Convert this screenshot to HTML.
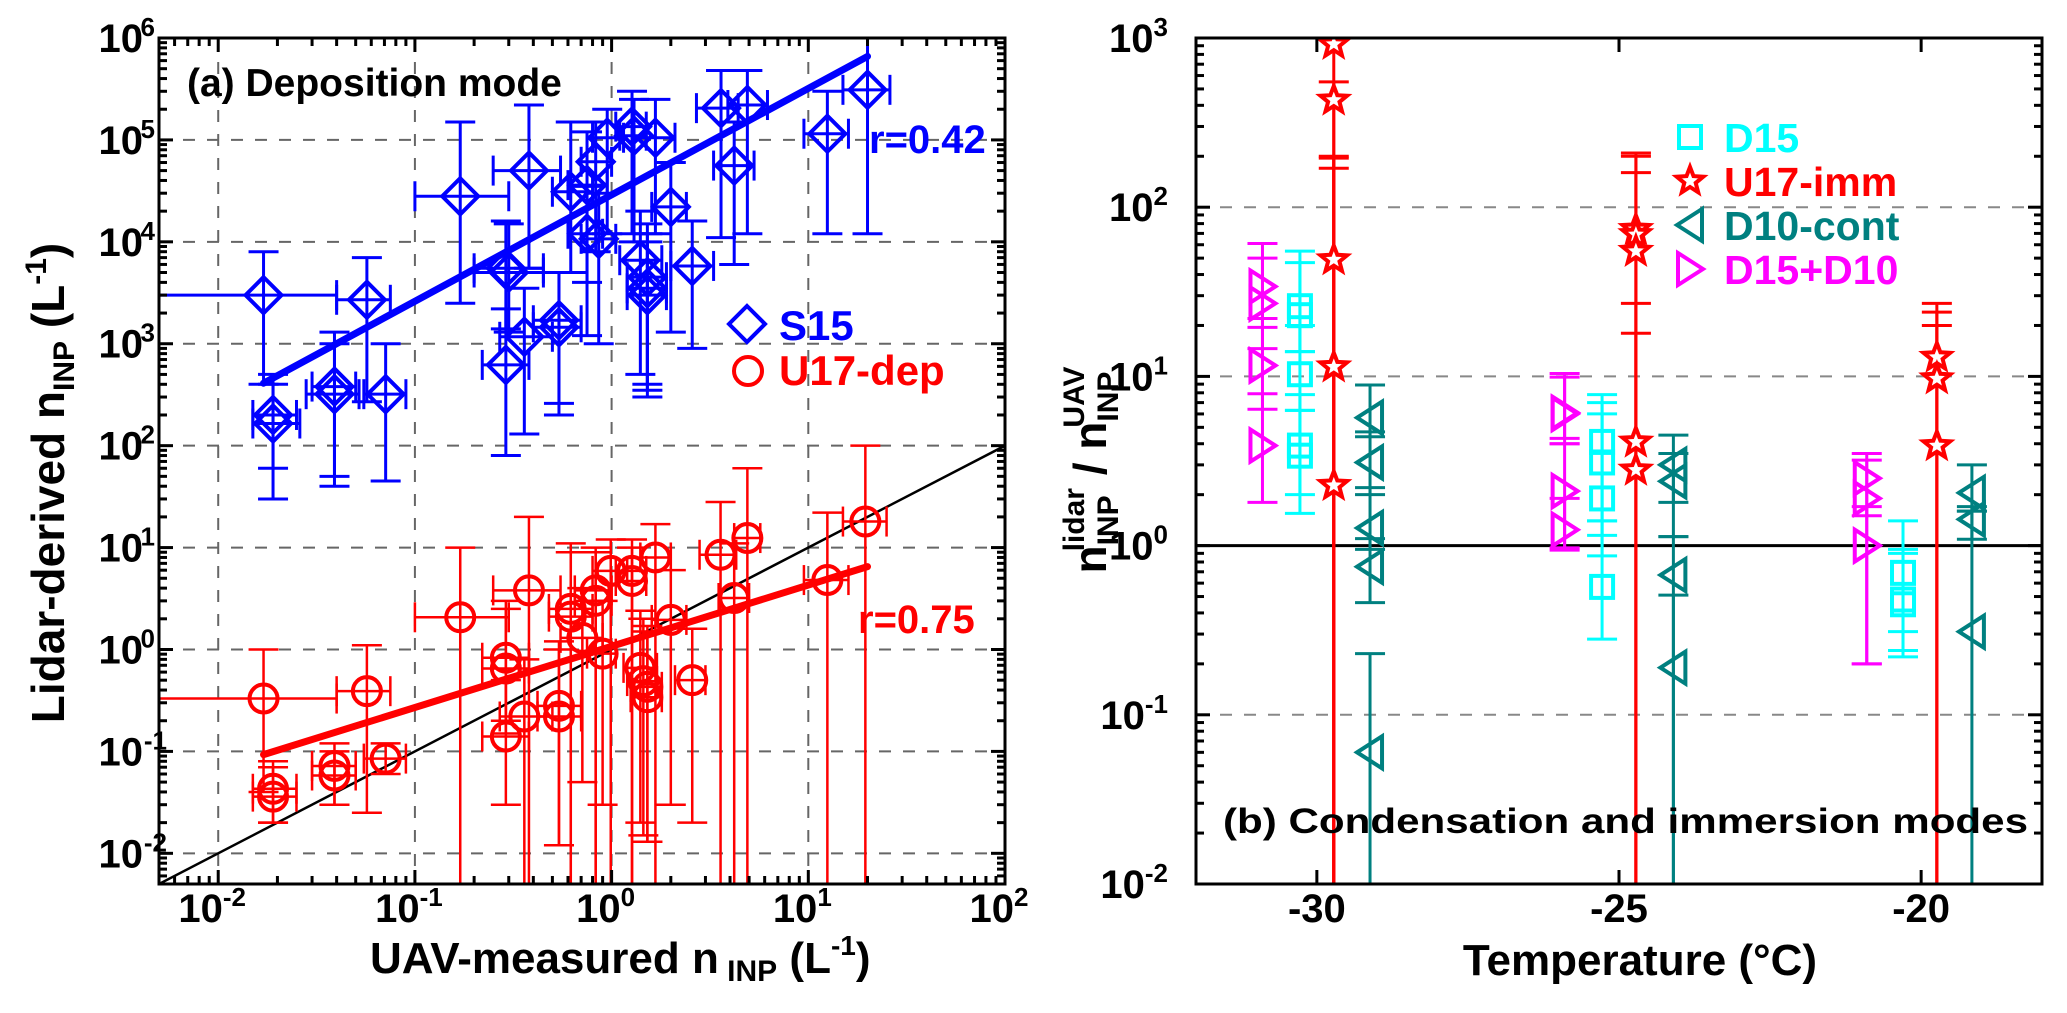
<!DOCTYPE html>
<html><head><meta charset="utf-8">
<style>
html,body{margin:0;padding:0;background:#fff;}
svg{display:block;font-family:"Liberation Sans",Arial,sans-serif;font-weight:bold;}
</style></head>
<body>
<svg id="fig" width="2067" height="1013" viewBox="0 0 2067 1013" xmlns="http://www.w3.org/2000/svg">
<defs>
<clipPath id="clipA"><rect x="159" y="38" width="846" height="846"/></clipPath>
<clipPath id="clipB"><rect x="1196" y="38" width="846" height="846"/></clipPath>
</defs>
<g id="panelA">
  <g id="gridA"></g>
  <g id="dataA" clip-path="url(#clipA)"></g>
  <g id="axesA"></g>
  <text x="187" y="96" font-size="39">(a) Deposition mode</text>
  <text x="869" y="153" font-size="40" fill="#0000ff">r=0.42</text>
  <text x="858" y="633" font-size="40" fill="#ff0000">r=0.75</text>
  <g>
    <polygon points="747,306 765,324 747,342 729,324" fill="none" stroke="#0000ff" stroke-width="4"/>
    <text x="779" y="340" font-size="42" fill="#0000ff">S15</text>
    <circle cx="748" cy="371" r="14" fill="none" stroke="#ff0000" stroke-width="4"/>
    <text x="779" y="385" font-size="42" fill="#ff0000">U17-dep</text>
  </g>
  <text x="370" y="973" font-size="44">UAV-measured n<tspan font-size="30" dy="8"> INP</tspan><tspan dy="-8"> (L</tspan><tspan font-size="28" dy="-18">-1</tspan><tspan dy="18">)</tspan></text>
  <text transform="translate(64,483) rotate(-90)" text-anchor="middle" font-size="46">Lidar-derived n<tspan font-size="30" dy="10">INP</tspan><tspan dy="-10"> (L</tspan><tspan font-size="30" dy="-18">-1</tspan><tspan dy="18">)</tspan></text>
</g>
<g id="panelB">
  <g id="gridB"></g>
  <g id="dataB" clip-path="url(#clipB)"></g>
  <g id="axesB"></g>
  <text x="1223" y="833" font-size="35" textLength="805" lengthAdjust="spacingAndGlyphs">(b) Condensation and immersion modes</text>
  <g id="legendB"></g>
  <text x="1640" y="975" text-anchor="middle" font-size="44">Temperature (°C)</text>
  <text transform="translate(1106,470) rotate(-90)" text-anchor="middle" font-size="46">n<tspan font-size="30" dy="12">INP</tspan><tspan font-size="30" dx="-56" dy="-34">lidar</tspan><tspan dy="22"> / n</tspan><tspan font-size="30" dy="12">INP</tspan><tspan font-size="30" dx="-56" dy="-34">UAV</tspan></text>
</g>
</svg>
<script>
// ---------- Panel (a) data ----------
const s15X   = [0.017,0.019,0.019,0.039,0.039,0.057,0.071,0.17,0.38,0.29,0.30,0.29,0.36,0.54,0.54,0.62,0.75,0.83,0.95,1.27,1.30,1.67,2.0,0.75,0.86,1.40,1.52,1.52,1.52,2.57,3.6,4.9,4.2,12.5,20];
const s15Y   = [3000,200,165,380,320,2700,320,28000,50000,5500,5000,620,1170,1700,1450,31000,36000,61000,105000,135000,110000,105000,22000,12000,10700,6600,4500,3500,3000,5800,205000,220000,56000,115000,310000];
const s15XLo = [0.005,0.015,0.015,0.03,0.028,0.04,0.055,0.1,0.25,0.2,0.2,0.22,0.27,0.4,0.4,0.5,0.6,0.7,0.8,1.05,1.1,1.3,1.6,0.6,0.7,1.1,1.2,1.2,1.2,2.0,2.7,3.9,3.3,9.5,15];
const s15XHi = [0.04,0.025,0.026,0.05,0.052,0.075,0.09,0.3,0.55,0.45,0.45,0.38,0.5,0.7,0.7,0.8,0.95,1.0,1.15,1.5,1.5,2.1,2.4,0.9,1.05,1.8,1.9,1.9,1.9,3.3,4.4,6.2,5.3,16,26];
const s15YLo = [400,60,30,50,40,270,45,2500,5500,1400,1300,80,130,260,200,5000,4000,8000,12000,12000,10000,12000,1300,1200,1000,500,400,350,300,900,11000,12000,6000,12000,12000];
const s15YHi = [8000,500,400,1300,1000,7000,1000,150000,220000,16000,15000,2200,3500,5000,5000,150000,120000,150000,200000,300000,250000,250000,60000,35000,30000,20000,15000,12000,10000,16000,480000,480000,150000,300000,1000000];

const depX   = [0.017,0.057,0.019,0.019,0.039,0.039,0.071,0.17,0.38,0.29,0.29,0.29,0.36,0.54,0.54,0.62,0.62,0.71,0.83,0.83,0.99,1.27,1.27,1.67,2.0,0.9,1.4,1.45,1.52,1.52,2.57,3.58,4.9,4.2,12.5,19.5];
const depY   = [0.33,0.39,0.043,0.036,0.072,0.058,0.085,2.07,3.8,0.83,0.65,0.14,0.22,0.28,0.22,2.5,2.1,1.3,3.8,3.0,5.9,5.9,4.7,8.0,1.95,0.91,0.66,0.49,0.43,0.34,0.5,8.5,12.4,3.2,4.8,18];
const depXLo = [0.005,0.04,0.015,0.015,0.03,0.03,0.055,0.1,0.25,0.22,0.22,0.22,0.27,0.42,0.42,0.48,0.48,0.55,0.65,0.65,0.8,1.05,1.05,1.4,1.6,0.75,1.15,1.2,1.25,1.25,2.1,2.8,4.2,3.5,9.5,15];
const depXHi = [0.04,0.075,0.025,0.025,0.05,0.05,0.09,0.3,0.55,0.38,0.38,0.38,0.5,0.7,0.7,0.8,0.8,0.9,1.0,1.0,1.2,1.5,1.5,2.0,2.4,1.05,1.7,1.7,1.8,1.8,3.0,4.3,5.7,5.0,16,25];
const depYLo = [0.04,0.025,0.02,0.02,0.03,0.03,0.06,0.005,0.005,0.2,0.15,0.03,0.005,0.012,0.012,0.005,0.005,0.05,0.005,0.005,0.005,0.005,0.005,0.005,0.03,0.03,0.02,0.015,0.013,0.013,0.02,0.005,0.005,0.005,0.005,0.005];
const depYHi = [1.0,1.1,0.08,0.07,0.12,0.1,0.12,10,20,3,2.5,0.5,0.8,1.2,1.0,11,9,4,10,9,12,12,10,17,6,3,2.4,2,1.7,1.5,1.6,28,60,11,22,100];

const fitS15X = [0.017,20];
const fitS15Y = [410,660000];
const fitDepX = [0.017,20];
const fitDepY = [0.093,6.5];
const oneToOne = [0.005,100];

const xTicksA = [-2,-1,0,1,2];
const yTicksA = [-2,-1,0,1,2,3,4,5,6];

// ---------- Panel (b) data ----------
const immT = [-29.72,-29.72,-29.72,-29.72,-29.72,-24.72,-24.72,-24.72,-24.72,-24.72,-19.74,-19.74,-19.74];
const immY = [920,430,49,11.4,2.27,74,69,55,4.1,2.8,13,9.7,3.9];
const immLo= [0.01,0.01,0.01,0.01,0.01,0.01,0.01,0.01,0.01,0.01,0.01,0.01,0.01];
const immHi= [1000,550,200,195,170,209,200,160,27,18,27,24,20];

const d15T = [-30.28,-30.28,-30.28,-30.28,-30.28,-25.28,-25.28,-25.28,-25.28,-20.3,-20.3,-20.3];
const d15Y = [26,23,10.3,3.9,3.4,4.1,3.1,1.9,0.57,0.69,0.48,0.45];
const d15Lo= [14,14,6.3,2.0,1.55,1.15,1.4,0.87,0.28,0.31,0.24,0.22];
const d15Hi= [55,47,20,7.8,6.3,7.8,7.0,6.0,1.4,1.4,0.95,0.9];

const mixT = [-30.9,-30.9,-30.9,-30.9,-25.9,-25.9,-25.9,-25.9,-20.9,-20.9,-20.9];
const mixY = [34,27,11.6,3.9,6.1,6.0,2.1,1.24,2.5,1.9,1.0];
const mixLo= [19.5,14.6,6.4,1.8,4.3,4.0,0.97,0.94,1.5,0.2,0.2];
const mixHi= [61,50,22,7.9,10.4,9.9,4.0,1.9,3.5,3.2,1.7];

const contT = [-29.12,-29.12,-29.12,-29.12,-29.12,-24.1,-24.1,-24.1,-24.1,-19.16,-19.16,-19.16];
const contY = [5.7,3.1,1.27,0.75,0.06,3.0,2.4,0.67,0.19,2.05,1.43,0.31];
const contLo= [4.4,2.0,0.95,0.46,0.01,1.8,1.13,0.01,0.01,1.6,1.09,0.01];
const contHi= [8.9,4.7,2.2,1.1,0.23,4.5,3.5,1.13,0.51,3.0,1.7,1.6];

const xTicksB = [-30,-25,-20];
const yTicksB = [-2,-1,0,1,2,3];

// ---------- helpers ----------
const NS = "http://www.w3.org/2000/svg";
function mk(parent, tag, attrs){
  const el = document.createElementNS(NS, tag);
  for (const k in attrs) el.setAttribute(k, attrs[k]);
  parent.appendChild(el);
  return el;
}
const A = {x0:159, x1:1005, y0:38, y1:884, lxmin:Math.log10(0.005), lxmax:2, lymin:Math.log10(0.005), lymax:6};
function ax(v){ return A.x0 + (Math.log10(v)-A.lxmin)/(A.lxmax-A.lxmin)*(A.x1-A.x0); }
function ay(v){ return A.y1 - (Math.log10(v)-A.lymin)/(A.lymax-A.lymin)*(A.y1-A.y0); }
const B = {x0:1196, x1:2042, y0:38, y1:884, tmin:-32, tmax:-18, lymin:-2, lymax:3};
function bx(t){ return B.x0 + (t-B.tmin)/(B.tmax-B.tmin)*(B.x1-B.x0); }
function by(v){ return B.y1 - (Math.log10(v)-B.lymin)/(B.lymax-B.lymin)*(B.y1-B.y0); }

const gridA = document.getElementById('gridA');
const dataA = document.getElementById('dataA');
const axesA = document.getElementById('axesA');
const gridB = document.getElementById('gridB');
const dataB = document.getElementById('dataB');
const axesB = document.getElementById('axesB');
const legendB = document.getElementById('legendB');

// ---------- Panel A grid ----------
xTicksA.forEach(e=>{
  if (e>=2) return;
  const x = ax(Math.pow(10,e));
  const l = mk(gridA,'line',{x1:x,x2:x,y1:A.y0,y2:A.y1,stroke:'#666','stroke-width':2,'stroke-dasharray':'12,12'});
  
  
});
yTicksA.forEach(e=>{
  if (e>=6) return;
  const y = ay(Math.pow(10,e));
  const l = mk(gridA,'line',{x1:A.x0,x2:A.x1,y1:y,y2:y,stroke:'#666','stroke-width':2,'stroke-dasharray':'12,12'});
  
  
});

// 1:1 line
const one = mk(dataA,'line',{x1:ax(oneToOne[0]),y1:ay(oneToOne[0]),x2:ax(oneToOne[1]),y2:ay(oneToOne[1]),stroke:'#000','stroke-width':2.5});



function errA(g, X, Y, XL, XH, YL, YH, color, w){
  for (let i=0;i<X.length;i++){
    const cx=ax(X[i]), cy=ay(Y[i]);
    const eg = mk(g,'g',{stroke:color,'stroke-width':w,fill:'none'});
    
    
    const yl=ay(YL[i]), yh=ay(YH[i]), xl=ax(XL[i]), xh=ax(XH[i]);
    mk(eg,'line',{x1:cx,x2:cx,y1:yl,y2:yh});
    mk(eg,'line',{x1:xl,x2:xh,y1:cy,y2:cy});
    if (YL[i]>0.0055) mk(eg,'line',{x1:cx-15,x2:cx+15,y1:yl,y2:yl});
    mk(eg,'line',{x1:cx-15,x2:cx+15,y1:yh,y2:yh});
    if (XL[i]>0.0055) mk(eg,'line',{x1:xl,x2:xl,y1:cy-15,y2:cy+15});
    mk(eg,'line',{x1:xh,x2:xh,y1:cy-15,y2:cy+15});
  }
}
errA(dataA, s15X, s15Y, s15XLo, s15XHi, s15YLo, s15YHi, '#0000ff', 3);
errA(dataA, depX, depY, depXLo, depXHi, depYLo, depYHi, '#ff0000', 2.5);

for (let i=0;i<s15X.length;i++){
  const cx=ax(s15X[i]), cy=ay(s15Y[i]), r=18;
  const p = mk(dataA,'polygon',{points:`${cx},${cy-r} ${cx+r},${cy} ${cx},${cy+r} ${cx-r},${cy}`,fill:'none',stroke:'#0000ff','stroke-width':4});
  
  
}
for (let i=0;i<depX.length;i++){
  const c = mk(dataA,'circle',{cx:ax(depX[i]),cy:ay(depY[i]),r:14,fill:'none',stroke:'#ff0000','stroke-width':4});
  
  
}
const fb = mk(dataA,'line',{x1:ax(fitS15X[0]),y1:ay(fitS15Y[0]),x2:ax(fitS15X[1]),y2:ay(fitS15Y[1]),stroke:'#0000ff','stroke-width':7,'stroke-linecap':'round'});


const fr = mk(dataA,'line',{x1:ax(fitDepX[0]),y1:ay(fitDepY[0]),x2:ax(fitDepX[1]),y2:ay(fitDepY[1]),stroke:'#ff0000','stroke-width':7,'stroke-linecap':'round'});



// Panel A axes
const frA = mk(axesA,'rect',{x:A.x0,y:A.y0,width:A.x1-A.x0,height:A.y1-A.y0,fill:'none',stroke:'#000','stroke-width':3});


for (let e=-3;e<=2;e++){
  for (let m=1;m<10;m++){
    const v=m*Math.pow(10,e); if (v<0.005-1e-9||v>100+1e-9) continue;
    const x=ax(v), L=(m===1)?14:8;
    mk(axesA,'line',{x1:x,x2:x,y1:A.y1,y2:A.y1-L,stroke:'#000','stroke-width':3});
    mk(axesA,'line',{x1:x,x2:x,y1:A.y0,y2:A.y0+L,stroke:'#000','stroke-width':3});
  }
}
for (let e=-3;e<=6;e++){
  for (let m=1;m<10;m++){
    const v=m*Math.pow(10,e); if (v<0.005-1e-9||v>1e6+1) continue;
    const y=ay(v), L=(m===1)?14:8;
    mk(axesA,'line',{x1:A.x0,x2:A.x0+L,y1:y,y2:y,stroke:'#000','stroke-width':3});
    mk(axesA,'line',{x1:A.x1,x2:A.x1-L,y1:y,y2:y,stroke:'#000','stroke-width':3});
  }
}
xTicksA.forEach(e=>{
  const t = mk(axesA,'text',{x:ax(Math.pow(10,e))-6,y:922,'text-anchor':'middle','font-size':40});
  
  
  t.textContent='10';
  const s = mk(t,'tspan',{'font-size':26,dy:-16});
  s.textContent=String(e);
});
yTicksA.forEach(e=>{
  const t = mk(axesA,'text',{x:143,y:ay(Math.pow(10,e))+14,'text-anchor':'end','font-size':40});
  
  
  t.textContent='10';
  const s = mk(t,'tspan',{'font-size':26,dy:-16,x:143+(e<0?24:12)});
  s.setAttribute('text-anchor','end');
  s.textContent=String(e);
});

// ---------- Panel B ----------
[-1,1,2].forEach(e=>{
  const y=by(Math.pow(10,e));
  const l = mk(gridB,'line',{x1:B.x0,x2:B.x1,y1:y,y2:y,stroke:'#888','stroke-width':2,'stroke-dasharray':'12,12'});
  
  
});
const unity = mk(gridB,'line',{x1:B.x0,x2:B.x1,y1:by(1),y2:by(1),stroke:'#000','stroke-width':3});



function errB(T,Y,LO,HI,color,w){
  for (let i=0;i<T.length;i++){
    const cx=bx(T[i]);
    const eg = mk(dataB,'g',{stroke:color,'stroke-width':w,fill:'none'});
    
    
    const yl=by(LO[i]), yh=by(HI[i]);
    mk(eg,'line',{x1:cx,x2:cx,y1:yl,y2:yh});
    mk(eg,'line',{x1:cx-15,x2:cx+15,y1:yh,y2:yh});
    if (LO[i]>0.0101) mk(eg,'line',{x1:cx-15,x2:cx+15,y1:yl,y2:yl});
  }
}
errB(immT,immY,immLo,immHi,'#ff0000',3);
errB(d15T,d15Y,d15Lo,d15Hi,'#00ffff',3);
errB(mixT,mixY,mixLo,mixHi,'#ff00ff',3);
errB(contT,contY,contLo,contHi,'#008080',3);

function starPts(cx,cy,R,r){
  let p=[];
  for(let k=0;k<10;k++){const a=-Math.PI/2+k*Math.PI/5; const rr=(k%2)?r:R; p.push((cx+rr*Math.cos(a)).toFixed(1)+','+(cy+rr*Math.sin(a)).toFixed(1));}
  return p.join(' ');
}
function sq(g,cx,cy){ return mk(g,'rect',{x:cx-11,y:cy-11,width:22,height:22,fill:'none',stroke:'#00ffff','stroke-width':4}); }
function triL(g,cx,cy,col){ return mk(g,'polygon',{points:`${cx-13},${cy} ${cx+12},${cy-16} ${cx+12},${cy+16}`,fill:'none',stroke:col,'stroke-width':4}); }
function triR(g,cx,cy,col){ return mk(g,'polygon',{points:`${cx+13},${cy} ${cx-12},${cy-16} ${cx-12},${cy+16}`,fill:'none',stroke:col,'stroke-width':4}); }
function star(g,cx,cy){ return mk(g,'polygon',{points:starPts(cx,cy,14,6),fill:'#fff',stroke:'#ff0000','stroke-width':4,'stroke-linejoin':'miter'}); }

for (let i=0;i<d15T.length;i++){
  const m=sq(dataB,bx(d15T[i]),by(d15Y[i]));
  
  
}
for (let i=0;i<mixT.length;i++){
  const m=triR(dataB,bx(mixT[i]),by(mixY[i]),'#ff00ff');
  
  
}
for (let i=0;i<contT.length;i++){
  const m=triL(dataB,bx(contT[i]),by(contY[i]),'#008080');
  
  
}
for (let i=0;i<immT.length;i++){
  const m=star(dataB,bx(immT[i]),by(immY[i]));
  
  
}

const frB = mk(axesB,'rect',{x:B.x0,y:B.y0,width:B.x1-B.x0,height:B.y1-B.y0,fill:'none',stroke:'#000','stroke-width':3});


for (let e=-2;e<=2;e++){
  for (let m=1;m<10;m++){
    const v=m*Math.pow(10,e); const y=by(v), L=(m===1)?14:8;
    mk(axesB,'line',{x1:B.x0,x2:B.x0+L,y1:y,y2:y,stroke:'#000','stroke-width':3});
    mk(axesB,'line',{x1:B.x1,x2:B.x1-L,y1:y,y2:y,stroke:'#000','stroke-width':3});
  }
}
xTicksB.forEach(t=>{
  const x=bx(t);
  mk(axesB,'line',{x1:x,x2:x,y1:B.y1,y2:B.y1-14,stroke:'#000','stroke-width':3});
  mk(axesB,'line',{x1:x,x2:x,y1:B.y0,y2:B.y0+14,stroke:'#000','stroke-width':3});
  const tx = mk(axesB,'text',{x:x,y:922,'text-anchor':'middle','font-size':40});
  
  
  tx.textContent=String(t);
});
yTicksB.forEach(e=>{
  const t = mk(axesB,'text',{x:1168,y:by(Math.pow(10,e))+14,'text-anchor':'end','font-size':40});
  
  
  t.textContent='10';
  const s = mk(t,'tspan',{'font-size':26,dy:-16});
  s.textContent=String(e);
});

// legend B
const legNames=['D15','U17-imm','D10-cont','D15+D10'];
const legColors=['#00ffff','#ff0000','#008080','#ff00ff'];
for (let i=0;i<4;i++){
  const cy=137+i*44, cx=1690;
  let m;
  if(i===0) m=sq(legendB,cx,cy);
  else if(i===1) m=star(legendB,cx,cy);
  else if(i===2) m=triL(legendB,cx,cy,'#008080');
  else m=triR(legendB,cx,cy,'#ff00ff');
  
  
  const t=mk(legendB,'text',{x:1724,y:cy+15,'font-size':41,fill:legColors[i]});
  
  
  t.textContent=legNames[i];
}
</script>
</body></html>
